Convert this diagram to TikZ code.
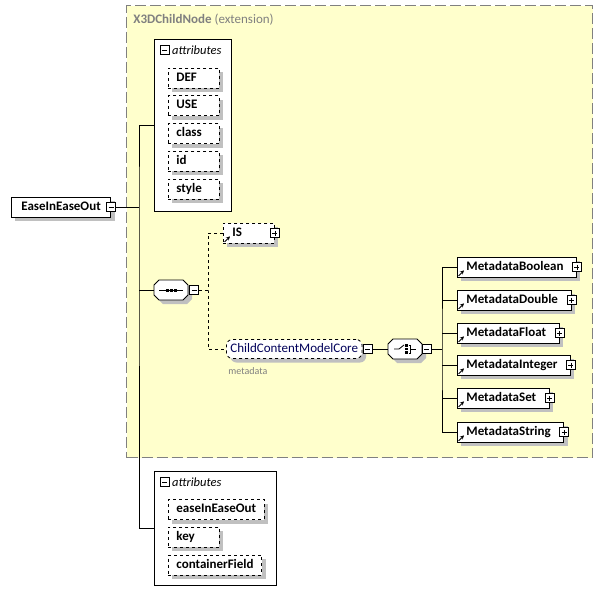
\documentclass[tikz,border=0pt]{standalone}
\usepackage{fontspec}
\setmainfont{Carlito}
\usetikzlibrary{arrows.meta}
\definecolor{extfill}{RGB}{255,255,204}
\definecolor{extline}{RGB}{128,128,128}
\definecolor{shadegray}{RGB}{192,192,192}
\definecolor{grpblue}{RGB}{0,0,90}

\begin{document}
\begin{tikzpicture}[
    x=1pt,y=-1pt,
    line width=0.8pt,
    every node/.style={font=\fontsize{13}{15}\selectfont},
    shadowed/.style={preaction={fill=shadegray,draw=none,transform canvas={xshift=4pt,yshift=-4pt}}},
    elem/.style={draw,fill=white,shadowed,anchor=west,minimum height=20pt,inner xsep=8pt,inner ysep=0pt,
                 text height=9pt,text depth=3pt,font=\fontsize{13}{15}\selectfont\bfseries},
    attr/.style={elem,dashed},
    short/.style={text width=35pt,align=left},
    ref/.style={elem,execute at begin node=\hspace{1pt},execute at end node=\hspace{5pt}},
    refarrow/.style={-{Stealth[length=4pt,width=4pt]},line width=0.9pt},
    btn/.style={draw,fill=white,line width=0.6pt,minimum size=9pt,inner sep=0pt},
    minusbtn/.style={btn,path picture={
        \draw[line width=0.6pt] ([xshift=2pt]path picture bounding box.west) -- ([xshift=-2pt]path picture bounding box.east);}},
    plusbtn/.style={btn,path picture={
        \draw[line width=0.6pt] ([xshift=2pt]path picture bounding box.west) -- ([xshift=-2pt]path picture bounding box.east);
        \draw[line width=0.6pt] ([yshift=-2pt]path picture bounding box.north) -- ([yshift=2pt]path picture bounding box.south);}},
    grp/.style={draw,fill=white,anchor=north west,inner sep=0pt},
    grphead/.style={anchor=west,inner xsep=2.5pt,font=\fontsize{12.5}{15}\selectfont\itshape},
    comp/.style={minimum width=34pt,minimum height=20pt,inner sep=0pt},
    octagon/.style={insert path={(-17,-5) -- (-12,-10) -- (12,-10) -- (17,-5) -- (17,5) -- (12,10) -- (-12,10) -- (-17,5) -- cycle}},
    extbox/.style={draw=extline,fill=extfill,line width=1.4pt,dash pattern=on 11pt off 4pt,anchor=north west,inner sep=0pt},
  ]
  \useasboundingbox (0,0) rectangle (603,605);

  % extension frame
  \node[extbox,minimum width=466pt,minimum height=452pt] (ext) at (126,5) {};
  \node[anchor=west,inner sep=0pt,text=extline] (exttitle) at (133,20) {\textbf{X3DChildNode} (extension)};

  % root element
  \node[elem,inner xsep=10pt] (root) at (11,207) {EaseInEaseOut};
  \node[minusbtn] (rootbtn) at (root.east) {};

  % inherited attributes
  \node[grp,minimum width=77pt,minimum height=172pt] (attrA) at (154,39) {};
  \node[minusbtn] (attrAbtn) at (164.5,50) {};
  \node[grphead] (attrAhead) at (attrAbtn.east) {attributes};
  \foreach \name [count=\i] in {DEF,USE,class,id,style}
    \node[attr,short] (a\i) at (168,{78+27.8*(\i-1)}) {\name};

  % own attributes
  \node[grp,minimum width=122pt,minimum height=114pt] (attrB) at (154,471) {};
  \node[minusbtn] (attrBbtn) at (164.5,482) {};
  \node[grphead] (attrBhead) at (attrBbtn.east) {attributes};
  \node[attr] (b1) at (168,509.5) {easeInEaseOut};
  \node[attr,short] (b2) at (168,537) {key};
  \node[attr] (b3) at (168,565) {containerField};

  % sequence
  \node[comp] (seq) at (171,290) {};
  \fill[shadegray,shift={(seq.center)},xshift=4pt,yshift=-4pt] [octagon];
  \filldraw[fill=white,shift={(seq.center)}] [octagon];
  \node[minusbtn] (seqbtn) at (194,290) {};
  \draw ([xshift=-12pt]seq.center) -- ([xshift=12pt]seq.center);
  \foreach \dx in {-4,0,4}
    \fill ([xshift=\dx pt]seq.center) +(-1.5,-1.5) rectangle +(1.5,1.5);

  \node[attr,short,ref] (IS) at (223,233) {IS};
  \node[plusbtn] (ISbtn) at (IS.east) {};
  \draw[refarrow] ([xshift=1.5pt,yshift=1.5pt]IS.south west) -- ++(5.5,-5.5);

  % content model group
  \node[draw,dashed,fill=white,shadowed,rounded corners=6pt,anchor=west,minimum height=19pt,inner xsep=4pt,inner ysep=0pt,
        text=grpblue,text height=9pt,text depth=3pt] (core) at (226,349) {ChildContentModelCore};
  \node[minusbtn] (corebtn) at (367.5,349) {};
  \node[anchor=west,inner sep=0pt,text=extline,font=\fontsize{10}{12}\selectfont] (corelbl) at (228,371) {metadata};

  % choice
  \node[comp] (choice) at (405,349) {};
  \fill[shadegray,shift={(choice.center)},xshift=4pt,yshift=-4pt] [octagon];
  \filldraw[fill=white,shift={(choice.center)}] [octagon];
  \node[minusbtn] (choicebtn) at (426.5,349) {};
  \draw ([xshift=-11pt]choice.center) -- ([xshift=-6pt]choice.center) -- ([xshift=-1pt,yshift=4pt]choice.center);
  \foreach \dy in {-3.5,0,3.5}
    \fill ([xshift=1.5pt,yshift=\dy pt]choice.center) +(-1.2,-1.2) rectangle +(1.2,1.2);
  \draw ([xshift=3.5pt,yshift=4pt]choice.center) -- ++(2,0) -- ++(0,8) -- ++(-2,0);
  \draw ([xshift=5.5pt]choice.center) -- ([xshift=11pt]choice.center);

  \foreach \name/\y [count=\i] in {Boolean/267,Double/300,Float/333,Integer/365,Set/398,String/432}{
    \node[ref] (m\i) at (457,\y) {Metadata\name};
    \node[plusbtn] (mp\i) at (m\i.east) {};
    \draw[refarrow] ([xshift=1.5pt,yshift=1.5pt]m\i.south west) -- ++(5.5,-5.5);
  }

  % connectors
  \coordinate (trunk) at (139,207);
  \draw (rootbtn.east) -- (trunk);
  \draw (attrA.west) -| (trunk) |- (attrB.west);
  \draw (trunk |- seq.west) -- (seq.west);
  \coordinate (seqfork) at (208,290);
  \draw[dashed] (seqbtn.east) -- (seqfork);
  \draw[dashed] (IS.west) -| (seqfork) |- (core.west);
  \draw (corebtn.east) -- (choice.west);
  \coordinate (chfork) at (442,349);
  \draw (choicebtn.east) -- (chfork);
  \draw (m1.west) -| (chfork) |- (m6.west);
  \foreach \i in {2,...,5}
    \draw (chfork |- m\i.west) -- (m\i.west);

\end{tikzpicture}
\end{document}
